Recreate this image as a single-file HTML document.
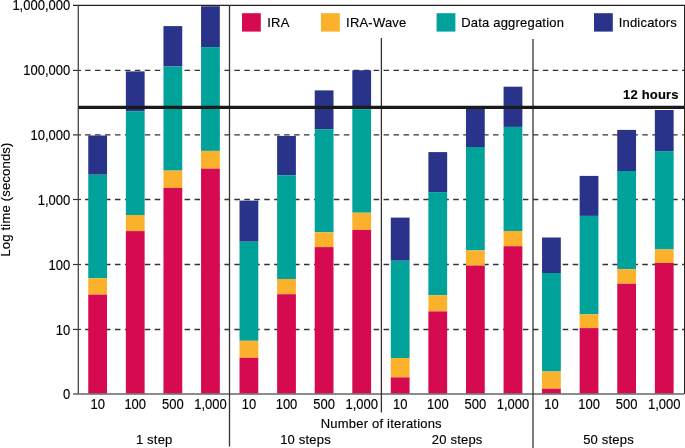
<!DOCTYPE html>
<html><head><meta charset="utf-8"><style>
html,body{margin:0;padding:0;background:#fff;width:685px;height:448px;overflow:hidden}
svg{display:block;will-change:transform}
text{font-family:"Liberation Sans",sans-serif;font-size:13px;fill:#000;stroke:#000;stroke-width:0.15px}
.w{letter-spacing:0.2px}
.n{font-size:14px}
</style></head><body>
<svg width="685" height="448" viewBox="0 0 685 448">
<rect width="685" height="448" fill="#fff"/>

<line x1="85.1" y1="70.4" x2="684" y2="70.4" stroke="#333" stroke-width="1.35" stroke-dasharray="5.5 4.45"/>
<line x1="85.1" y1="134.9" x2="684" y2="134.9" stroke="#333" stroke-width="1.35" stroke-dasharray="5.5 4.45"/>
<line x1="85.1" y1="199.5" x2="684" y2="199.5" stroke="#333" stroke-width="1.35" stroke-dasharray="5.5 4.45"/>
<line x1="85.1" y1="264.5" x2="684" y2="264.5" stroke="#333" stroke-width="1.35" stroke-dasharray="5.5 4.45"/>
<line x1="85.1" y1="329.45" x2="684" y2="329.45" stroke="#333" stroke-width="1.35" stroke-dasharray="5.5 4.45"/>
<rect x="88.25" y="135.5" width="18.78" height="39.20" fill="#293389"/>
<rect x="88.25" y="174.7" width="18.78" height="103.60" fill="#00A29A"/>
<rect x="88.25" y="278.3" width="18.78" height="16.30" fill="#FBB12B"/>
<rect x="88.25" y="294.6" width="18.78" height="99.00" fill="#D60A50"/>
<rect x="125.85" y="71.4" width="18.78" height="39.80" fill="#293389"/>
<rect x="125.85" y="111.2" width="18.78" height="103.80" fill="#00A29A"/>
<rect x="125.85" y="215.0" width="18.78" height="16.10" fill="#FBB12B"/>
<rect x="125.85" y="231.1" width="18.78" height="162.50" fill="#D60A50"/>
<rect x="163.46" y="26.1" width="18.78" height="40.40" fill="#293389"/>
<rect x="163.46" y="66.5" width="18.78" height="104.10" fill="#00A29A"/>
<rect x="163.46" y="170.6" width="18.78" height="17.30" fill="#FBB12B"/>
<rect x="163.46" y="187.9" width="18.78" height="205.70" fill="#D60A50"/>
<rect x="201.06" y="6.25" width="18.78" height="40.85" fill="#293389"/>
<rect x="201.06" y="47.1" width="18.78" height="103.80" fill="#00A29A"/>
<rect x="201.06" y="150.9" width="18.78" height="17.70" fill="#FBB12B"/>
<rect x="201.06" y="168.6" width="18.78" height="225.00" fill="#D60A50"/>
<rect x="239.52" y="200.6" width="18.78" height="41.10" fill="#293389"/>
<rect x="239.52" y="241.7" width="18.78" height="99.10" fill="#00A29A"/>
<rect x="239.52" y="340.8" width="18.78" height="17.00" fill="#FBB12B"/>
<rect x="239.52" y="357.8" width="18.78" height="35.80" fill="#D60A50"/>
<rect x="277.12" y="135.9" width="18.78" height="39.30" fill="#293389"/>
<rect x="277.12" y="175.2" width="18.78" height="103.80" fill="#00A29A"/>
<rect x="277.12" y="279.0" width="18.78" height="15.20" fill="#FBB12B"/>
<rect x="277.12" y="294.2" width="18.78" height="99.40" fill="#D60A50"/>
<rect x="314.72" y="90.4" width="18.78" height="38.80" fill="#293389"/>
<rect x="314.72" y="129.2" width="18.78" height="103.10" fill="#00A29A"/>
<rect x="314.72" y="232.3" width="18.78" height="14.80" fill="#FBB12B"/>
<rect x="314.72" y="247.1" width="18.78" height="146.50" fill="#D60A50"/>
<rect x="352.32" y="70.3" width="18.78" height="38.80" fill="#293389"/>
<rect x="352.32" y="109.1" width="18.78" height="103.60" fill="#00A29A"/>
<rect x="352.32" y="212.7" width="18.78" height="17.20" fill="#FBB12B"/>
<rect x="352.32" y="229.9" width="18.78" height="163.70" fill="#D60A50"/>
<rect x="390.78" y="217.6" width="18.78" height="43.10" fill="#293389"/>
<rect x="390.78" y="260.7" width="18.78" height="97.30" fill="#00A29A"/>
<rect x="390.78" y="358.0" width="18.78" height="19.40" fill="#FBB12B"/>
<rect x="390.78" y="377.4" width="18.78" height="16.20" fill="#D60A50"/>
<rect x="428.38" y="152.1" width="18.78" height="40.00" fill="#293389"/>
<rect x="428.38" y="192.1" width="18.78" height="103.20" fill="#00A29A"/>
<rect x="428.38" y="295.3" width="18.78" height="16.10" fill="#FBB12B"/>
<rect x="428.38" y="311.4" width="18.78" height="82.20" fill="#D60A50"/>
<rect x="465.98" y="107.5" width="18.78" height="39.50" fill="#293389"/>
<rect x="465.98" y="147.0" width="18.78" height="103.40" fill="#00A29A"/>
<rect x="465.98" y="250.4" width="18.78" height="15.20" fill="#FBB12B"/>
<rect x="465.98" y="265.6" width="18.78" height="128.00" fill="#D60A50"/>
<rect x="503.58" y="86.7" width="18.78" height="40.20" fill="#293389"/>
<rect x="503.58" y="126.9" width="18.78" height="104.10" fill="#00A29A"/>
<rect x="503.58" y="231.0" width="18.78" height="15.20" fill="#FBB12B"/>
<rect x="503.58" y="246.2" width="18.78" height="147.40" fill="#D60A50"/>
<rect x="542.04" y="237.5" width="18.78" height="35.50" fill="#293389"/>
<rect x="542.04" y="273.0" width="18.78" height="98.50" fill="#00A29A"/>
<rect x="542.04" y="371.5" width="18.78" height="17.20" fill="#FBB12B"/>
<rect x="542.04" y="388.7" width="18.78" height="4.90" fill="#D60A50"/>
<rect x="579.64" y="175.9" width="18.78" height="40.00" fill="#293389"/>
<rect x="579.64" y="215.9" width="18.78" height="98.40" fill="#00A29A"/>
<rect x="579.64" y="314.3" width="18.78" height="13.80" fill="#FBB12B"/>
<rect x="579.64" y="328.1" width="18.78" height="65.50" fill="#D60A50"/>
<rect x="617.25" y="129.9" width="18.78" height="41.10" fill="#293389"/>
<rect x="617.25" y="171.0" width="18.78" height="98.20" fill="#00A29A"/>
<rect x="617.25" y="269.2" width="18.78" height="14.55" fill="#FBB12B"/>
<rect x="617.25" y="283.75" width="18.78" height="109.85" fill="#D60A50"/>
<rect x="654.85" y="110.0" width="18.78" height="41.10" fill="#293389"/>
<rect x="654.85" y="151.1" width="18.78" height="98.30" fill="#00A29A"/>
<rect x="654.85" y="249.4" width="18.78" height="13.60" fill="#FBB12B"/>
<rect x="654.85" y="263.0" width="18.78" height="130.60" fill="#D60A50"/>
<line x1="73" y1="70.4" x2="81" y2="70.4" stroke="#333" stroke-width="1.2"/>
<line x1="73" y1="134.9" x2="81" y2="134.9" stroke="#333" stroke-width="1.2"/>
<line x1="73" y1="199.5" x2="81" y2="199.5" stroke="#333" stroke-width="1.2"/>
<line x1="73" y1="264.5" x2="81" y2="264.5" stroke="#333" stroke-width="1.2"/>
<line x1="73" y1="329.45" x2="81" y2="329.45" stroke="#333" stroke-width="1.2"/>
<rect x="230" y="5.4" width="455" height="33" fill="#fff"/>
<line x1="78.3" y1="5.4" x2="78.3" y2="394.5" stroke="#444" stroke-width="1.3"/>
<line x1="73" y1="393.9" x2="684" y2="393.9" stroke="#666" stroke-width="1.5"/>
<line x1="73" y1="5.4" x2="685" y2="5.4" stroke="#222" stroke-width="1.2"/>
<line x1="684.5" y1="5" x2="684.5" y2="394" stroke="#222" stroke-width="1"/>
<line x1="229.5" y1="5" x2="229.5" y2="446.5" stroke="#333" stroke-width="1.3"/>
<line x1="381.4" y1="38" x2="381.4" y2="412.6" stroke="#333" stroke-width="1.3"/>
<line x1="533" y1="39" x2="533" y2="448" stroke="#333" stroke-width="1.3"/>
<line x1="78.4" y1="107.4" x2="684.5" y2="107.4" stroke="#1a1a1a" stroke-width="3.2"/>
<text x="678.8" y="98.8" class="w" text-anchor="end" style="font-weight:bold">12 hours</text>
<rect x="242" y="13.2" width="18.8" height="18.4" fill="#D60A50"/>
<text class="w" x="267.3" y="26.7">IRA</text>
<rect x="321" y="13.2" width="18.8" height="18.4" fill="#FBB12B"/>
<text class="w" x="346.1" y="26.7">IRA-Wave</text>
<rect x="436.6" y="13.2" width="18.8" height="18.4" fill="#00A29A"/>
<text class="w" x="461.2" y="26.7">Data aggregation</text>
<rect x="594" y="13.2" width="18.8" height="18.4" fill="#293389"/>
<text class="w" x="618.7" y="26.7">Indicators</text>
<text class="n" transform="translate(70.2,9.85) scale(0.929,1)" text-anchor="end">1,000,000</text>
<text class="n" transform="translate(70.2,74.75) scale(0.929,1)" text-anchor="end">100,000</text>
<text class="n" transform="translate(70.2,139.8) scale(0.929,1)" text-anchor="end">10,000</text>
<text class="n" transform="translate(70.2,204.9) scale(0.929,1)" text-anchor="end">1,000</text>
<text class="n" transform="translate(70.2,269.9) scale(0.929,1)" text-anchor="end">100</text>
<text class="n" transform="translate(70.2,335.1) scale(0.929,1)" text-anchor="end">10</text>
<text class="n" transform="translate(70.2,398.5) scale(0.929,1)" text-anchor="end">0</text>
<text class="w" transform="translate(9.6,199.5) rotate(-90)" text-anchor="middle">Log time (seconds)</text>
<text class="n" transform="translate(97.64,409.3) scale(0.929,1)" text-anchor="middle">10</text>
<text class="n" transform="translate(135.24,409.3) scale(0.929,1)" text-anchor="middle">100</text>
<text class="n" transform="translate(172.85,409.3) scale(0.929,1)" text-anchor="middle">500</text>
<text class="n" transform="translate(210.45,409.3) scale(0.929,1)" text-anchor="middle">1,000</text>
<text class="n" transform="translate(248.91,409.3) scale(0.929,1)" text-anchor="middle">10</text>
<text class="n" transform="translate(286.51,409.3) scale(0.929,1)" text-anchor="middle">100</text>
<text class="n" transform="translate(324.11,409.3) scale(0.929,1)" text-anchor="middle">500</text>
<text class="n" transform="translate(361.71,409.3) scale(0.929,1)" text-anchor="middle">1,000</text>
<text class="n" transform="translate(400.17,409.3) scale(0.929,1)" text-anchor="middle">10</text>
<text class="n" transform="translate(437.77,409.3) scale(0.929,1)" text-anchor="middle">100</text>
<text class="n" transform="translate(475.37,409.3) scale(0.929,1)" text-anchor="middle">500</text>
<text class="n" transform="translate(512.97,409.3) scale(0.929,1)" text-anchor="middle">1,000</text>
<text class="n" transform="translate(551.43,409.3) scale(0.929,1)" text-anchor="middle">10</text>
<text class="n" transform="translate(589.03,409.3) scale(0.929,1)" text-anchor="middle">100</text>
<text class="n" transform="translate(626.64,409.3) scale(0.929,1)" text-anchor="middle">500</text>
<text class="n" transform="translate(664.24,409.3) scale(0.929,1)" text-anchor="middle">1,000</text>
<text class="w" x="381.3" y="428" text-anchor="middle">Number of iterations</text>
<text class="w" x="154.2" y="444.1" text-anchor="middle">1 step</text>
<text class="w" x="305.5" y="444.1" text-anchor="middle">10 steps</text>
<text class="w" x="457.2" y="444.1" text-anchor="middle">20 steps</text>
<text class="w" x="608.5" y="444.1" text-anchor="middle">50 steps</text>
</svg></body></html>
